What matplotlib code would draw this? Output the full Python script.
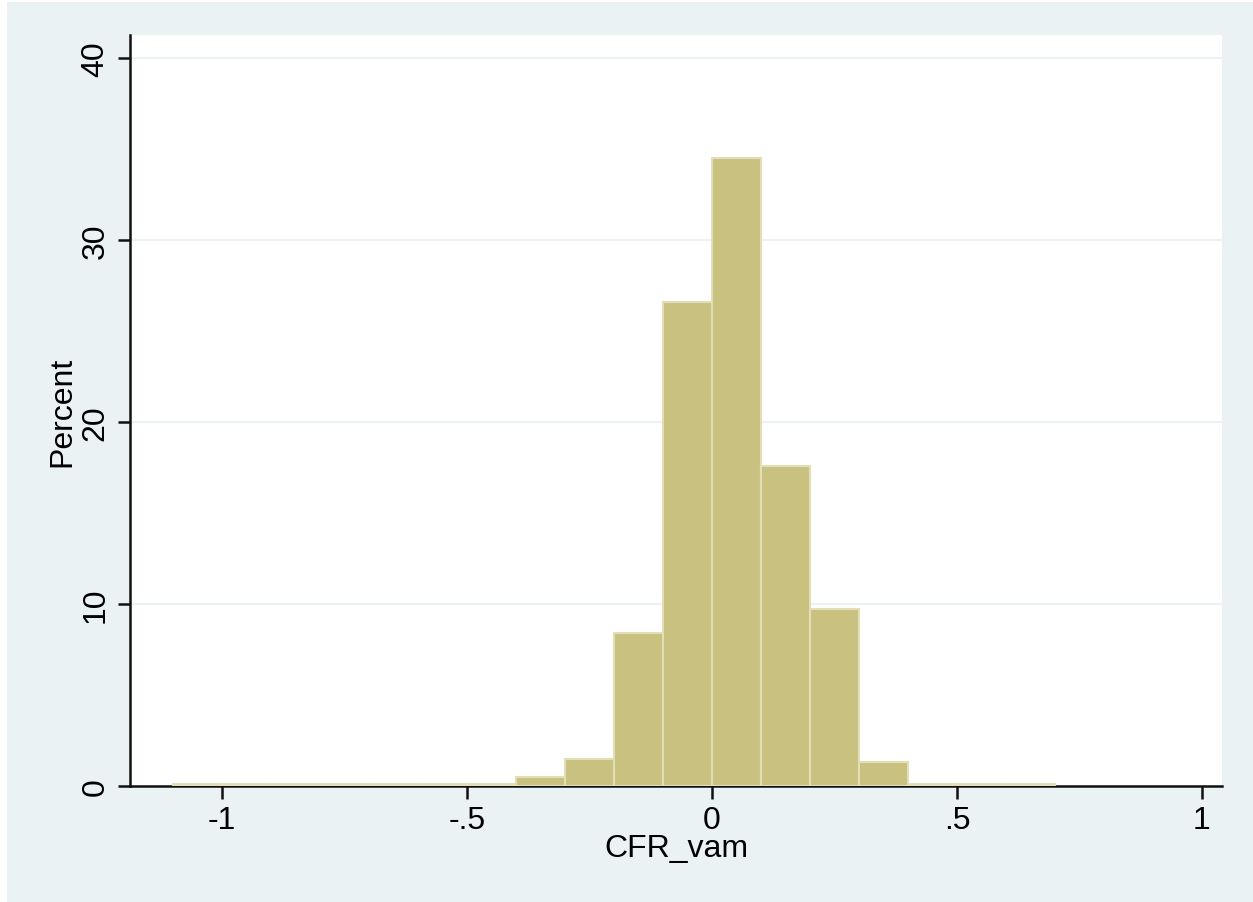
import matplotlib
matplotlib.use("Agg")
import matplotlib.pyplot as plt
import numpy as np
from matplotlib.patches import Rectangle

# Data: histogram bins (width 0.1) and percent heights
bin_edges = [-1.1, -1.0, -0.9, -0.8, -0.7, -0.6, -0.5, -0.4, -0.3, -0.2, -0.1,
             0.0, 0.1, 0.2, 0.3, 0.4, 0.5, 0.6, 0.7]
percents = [0.1, 0.1, 0.1, 0.1, 0.1, 0.1, 0.1, 0.5, 1.5, 8.4, 26.6,
            34.5, 17.6, 9.7, 1.3, 0.1, 0.1, 0.1]
x_ticks = [-1, -0.5, 0, 0.5, 1]
x_tick_labels = ["-1", "-.5", "0", ".5", "1"]
y_ticks = [0, 10, 20, 30, 40]
y_tick_labels = ["0", "10", "20", "30", "40"]

plt.rcParams['font.family'] = ['Liberation Sans', 'DejaVu Sans']

W, H = 1253, 903
fig = plt.figure(figsize=(W / 100, H / 100), dpi=100, facecolor="white")
bg = "#EAF2F3"
fig.patches.append(Rectangle((7 / W, 0), 1 - 7 / W, 1 - 3 / H, transform=fig.transFigure,
                             facecolor=bg, edgecolor="none", zorder=-10))

left, right, top, bottom = 130, 1222, 36, 787
ax = fig.add_axes([left / W, 1 - bottom / H, (right - left) / W, (bottom - top) / H])
ax.set_facecolor("white")

lefts = np.array(bin_edges[:-1])
widths = np.diff(bin_edges)
ax.bar(lefts, percents, width=widths, align="edge", color="#C9C17F",
       edgecolor="#E2DEB8", linewidth=1.5, zorder=3)

ax.set_xlim(-1.188, 1.041)
ax.set_ylim(0, 41.26)
ax.set_xticks(x_ticks)
ax.set_xticklabels(x_tick_labels)
ax.set_yticks(y_ticks)
ax.set_yticklabels(y_tick_labels, rotation=90, va="center")
ax.yaxis.grid(True, color="#EAF2F3", linewidth=1.5, zorder=0)
ax.set_axisbelow(True)

for s in ["top", "right"]:
    ax.spines[s].set_visible(False)
for s in ["left", "bottom"]:
    ax.spines[s].set_linewidth(1.8)
    ax.spines[s].set_color("#111111")

ax.tick_params(axis="both", direction="out", length=9, width=1.8, labelsize=23, pad=5,
               color="#111111")
ax.set_xlabel("CFR_vam", fontsize=23, labelpad=-2)
ax.set_ylabel("Percent", fontsize=23, labelpad=2)

fig.savefig("out.png", dpi=100, facecolor=fig.get_facecolor())
